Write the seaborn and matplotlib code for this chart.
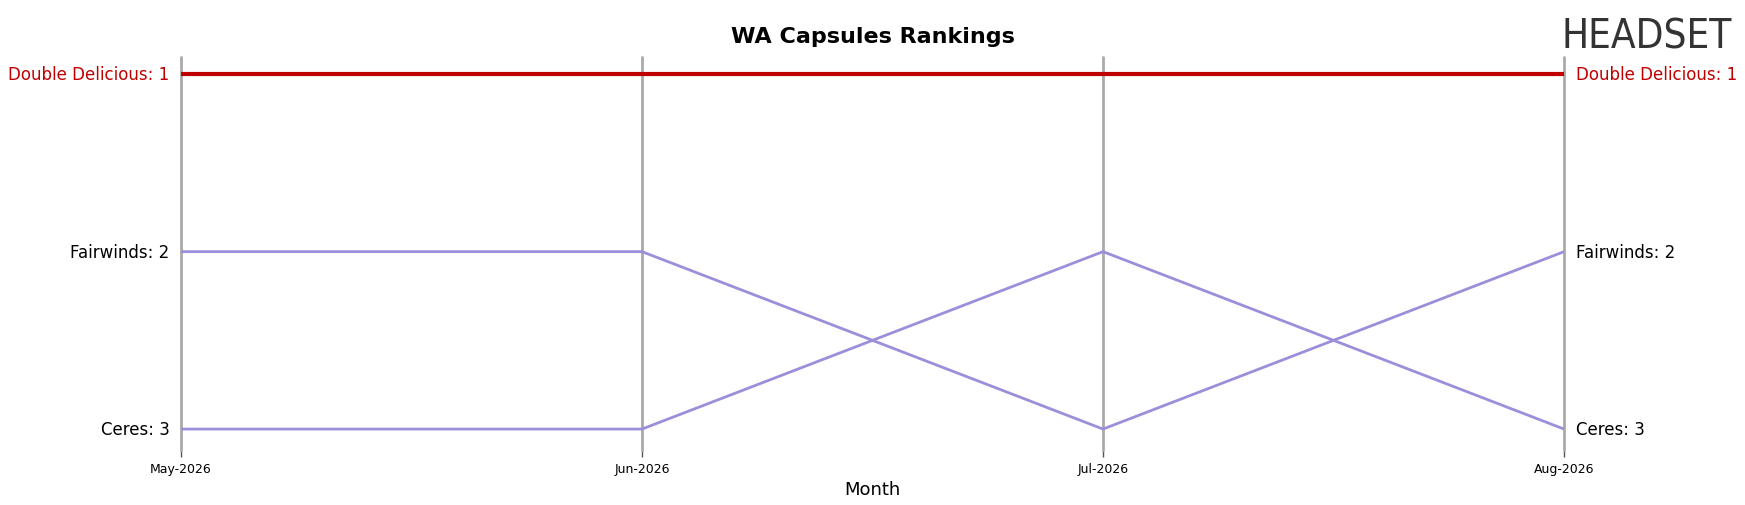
import matplotlib
matplotlib.use("Agg")
import matplotlib.pyplot as plt
import seaborn as sns
import pandas as pd

months = ["May-2026", "Jun-2026", "Jul-2026", "Aug-2026"]
double_delicious = [1, 1, 1, 1]
fairwinds = [2, 2, 3, 2]
ceres = [3, 3, 2, 3]

rows = []
for name, vals in [("Double Delicious", double_delicious), ("Fairwinds", fairwinds), ("Ceres", ceres)]:
    for i, (m, v) in enumerate(zip(months, vals)):
        rows.append({"brand": name, "x": i, "rank": v})
df = pd.DataFrame(rows)

sns.set_style("white")
plt.rcParams["text.color"] = "black"
plt.rcParams["axes.labelcolor"] = "black"
plt.rcParams["xtick.color"] = "black"
fig = plt.figure(figsize=(17.45, 5.06), dpi=100)
ax = fig.add_axes([0.1037, 0.1087, 0.7926, 0.7763])
palette = {"Double Delicious": "#c00000", "Fairwinds": "#9b8fdb", "Ceres": "#9b8fdb"}
widths = {"Double Delicious": 3, "Fairwinds": 2, "Ceres": 2}
for b in ["Fairwinds", "Ceres", "Double Delicious"]:
    sns.lineplot(data=df[df.brand == b], x="x", y="rank", color=palette[b], lw=widths[b], ax=ax, legend=False, zorder=3)
for i in range(len(months)):
    ax.axvline(i, color="#aaaaaa", lw=2, zorder=1, clip_on=False)
ax.set_xlim(0, len(months) - 1)
ax.set_ylim(3.118, 0.904)
for s in ax.spines.values():
    s.set_visible(False)
ax.set_xticks(range(len(months)))
ax.set_xticklabels(months, fontsize=9)
ax.tick_params(axis="x", length=5, width=1, color="#555555", bottom=True)
ax.set_yticks([])
ax.set_xlabel("Month", fontsize=13)
ax.set_ylabel("")
n = len(months) - 1
for name, vals in [("Double Delicious", double_delicious), ("Fairwinds", fairwinds), ("Ceres", ceres)]:
    col = "#c00000" if name == "Double Delicious" else "black"
    ax.text(-0.025, vals[0], f"{name}: {vals[0]}", ha="right", va="center", fontsize=12, color=col)
    ax.text(n + 0.025, vals[-1], f"{name}: {vals[-1]}", ha="left", va="center", fontsize=12, color=col)
fig.text(0.5, 0.927, "WA Capsules Rankings", ha="center", va="center", fontsize=16, fontweight="bold", color="black")
fig.text(0.895, 0.925, "HEADSET", ha="left", va="center", fontsize=29, color="#333333", fontstretch="condensed")
fig.savefig("out.png", dpi=100)
